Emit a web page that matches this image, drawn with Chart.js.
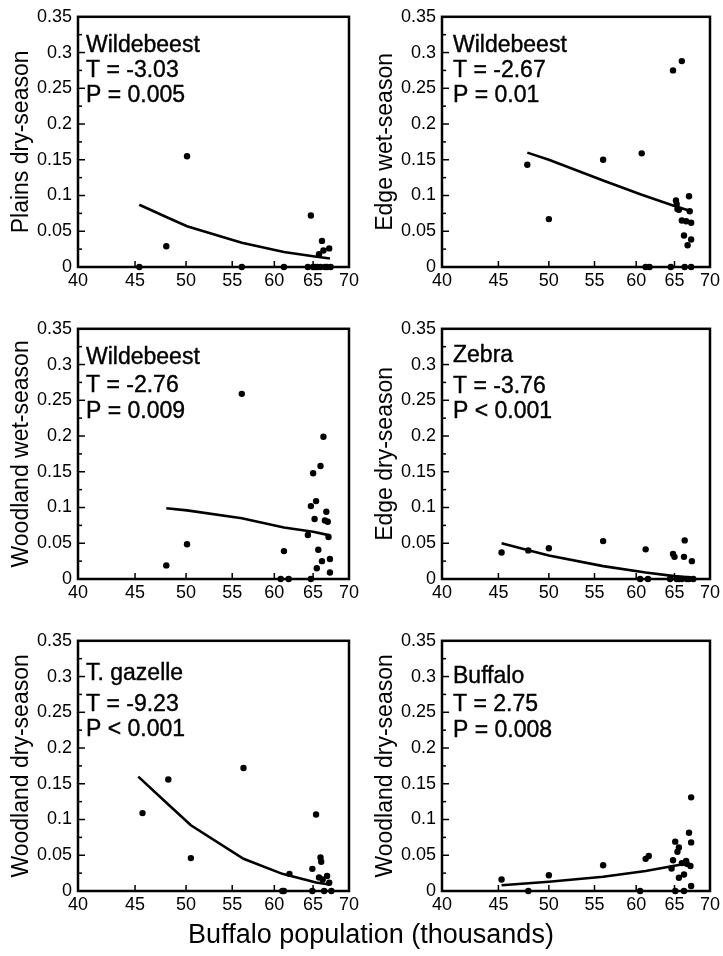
<!DOCTYPE html>
<html><head><meta charset="utf-8">
<script src="https://cdn.jsdelivr.net/npm/chart.js@4.4.0/dist/chart.umd.min.js"></script>
<style>
html,body{margin:0;padding:0;background:#fff;}
body{width:723px;height:956px;position:relative;overflow:hidden;font-family:"Liberation Sans",Arial,sans-serif;}
canvas{position:absolute;display:block;}
#xtitle{position:absolute;left:0;width:742px;top:918px;text-align:center;font-size:27px;color:#000;line-height:32px;}
</style></head><body>
<canvas id="c1" width="362" height="300" style="left:0;top:0"></canvas>
<canvas id="c2" width="361" height="300" style="left:362px;top:0"></canvas>
<canvas id="c3" width="362" height="300" style="left:0;top:312px"></canvas>
<canvas id="c4" width="361" height="300" style="left:362px;top:312px"></canvas>
<canvas id="c5" width="362" height="300" style="left:0;top:624px"></canvas>
<canvas id="c6" width="361" height="300" style="left:362px;top:624px"></canvas>
<div id="xtitle">Buffalo population (thousands)</div>
<script>
// ---- tick values ----
const xTickValues = [40, 45, 50, 55, 60, 65, 70];
const yTickValues = [0, 0.05, 0.1, 0.15, 0.2, 0.25, 0.3, 0.35];

// ---- panel 1: Plains dry-season, Wildebeest ----
const p1X = [45.4, 48.0, 50.1, 56.1, 61.2, 64.3, 64.7, 65.0, 65.3, 65.6, 65.8, 66.0, 66.2, 66.4, 66.6, 66.9, 67.2, 67.4];
const p1Y = [0, 0.029, 0.155, 0, 0, 0, 0.072, 0, 0, 0, 0.018, 0, 0.0365, 0.023, 0, 0, 0.026, 0];
const p1FitX = [45.4, 48, 50.1, 56.1, 61.2, 65, 67.3];
const p1FitY = [0.087, 0.070, 0.057, 0.034, 0.021, 0.015, 0.012];

// ---- panel 2: Edge wet-season, Wildebeest ----
const p2X = [47.8, 50.0, 56.0, 60.7, 61.2, 61.7, 64.5, 64.8, 65.2, 65.3, 65.4, 65.6, 66.0, 66.0, 66.3, 66.4, 66.6, 66.8, 67.0, 67.1, 67.3, 67.3, 67.3];
const p2Y = [0.143, 0.067, 0.150, 0.159, 0, 0, 0, 0.275, 0.093, 0.088, 0.081, 0.080, 0.288, 0.065, 0.044, 0, 0.064, 0.0305, 0.099, 0.078, 0.062, 0.0385, 0];
const p2FitX = [47.8, 50, 56, 60.7, 64.8, 67.3];
const p2FitY = [0.160, 0.150, 0.121, 0.101, 0.086, 0.078];

// ---- panel 3: Woodland wet-season, Wildebeest ----
const p3X = [48.0, 50.1, 56.1, 60.8, 61.2, 61.8, 64.3, 64.7, 64.7, 65.0, 65.2, 65.4, 65.5, 65.7, 66.0, 66.2, 66.4, 66.6, 66.8, 67.0, 67.1, 67.3, 67.3];
const p3Y = [0.019, 0.0486, 0.259, 0, 0.039, 0, 0.0616, 0.102, 0, 0.148, 0.084, 0.109, 0.015, 0.041, 0.158, 0.025, 0.199, 0.082, 0.094, 0.080, 0.0588, 0.028, 0.009];
const p3FitX = [48, 50.1, 56.1, 61.2, 65, 67.3];
const p3FitY = [0.099, 0.096, 0.085, 0.072, 0.066, 0.061];

// ---- panel 4: Edge dry-season, Zebra ----
const p4X = [45.3, 47.9, 50.0, 56.0, 60.5, 61.2, 61.5, 64.4, 64.8, 65.0, 65.3, 65.6, 66.0, 66.3, 66.4, 66.7, 67.0, 67.4, 67.6];
const p4Y = [0.037, 0.040, 0.043, 0.053, 0, 0.0415, 0, 0, 0.035, 0.031, 0, 0, 0, 0.031, 0.054, 0, 0, 0.025, 0];
const p4FitX = [45.3, 48, 50, 56, 61.2, 65, 67.3];
const p4FitY = [0.050, 0.040, 0.033, 0.018, 0.009, 0.004, 0.002];

// ---- panel 5: Woodland dry-season, T. gazelle ----
const p5X = [45.7, 48.2, 50.5, 56.3, 61.0, 61.2, 61.9, 64.9, 64.9, 65.4, 65.8, 66.0, 66.1, 66.3, 66.5, 66.9, 67.2, 67.5];
const p5Y = [0.109, 0.156, 0.046, 0.172, 0, 0, 0.024, 0.031, 0, 0.107, 0.019, 0.047, 0.041, 0.016, 0, 0.021, 0.0115, 0];
const p5FitX = [45.3, 48.2, 50.5, 56.3, 61, 65.4, 67.2];
const p5FitY = [0.160, 0.121, 0.092, 0.045, 0.024, 0.012, 0.009];

// ---- panel 6: Woodland dry-season, Buffalo ----
const p6X = [45.3, 47.9, 50.0, 56.0, 60.5, 61.2, 61.6, 64.6, 64.8, 65.1, 65.1, 65.4, 65.6, 65.6, 66.0, 66.3, 66.3, 66.6, 66.7, 67.0, 67.2, 67.3, 67.3, 67.3];
const p6Y = [0.016, 0, 0.022, 0.036, 0, 0.045, 0.049, 0.0315, 0.043, 0.069, 0, 0.055, 0.061, 0.0185, 0.039, 0.023, 0, 0.042, 0.038, 0.0815, 0.035, 0.131, 0.068, 0.007];
const p6FitX = [45.3, 50, 56, 61.2, 64.8, 66.6];
const p6FitY = [0.008, 0.013, 0.020, 0.028, 0.035, 0.038];

const FONT = '"Liberation Sans", Arial, Helvetica, sans-serif';
Chart.defaults.font.family = FONT;
Chart.defaults.color = '#000';

const framePlugin = {
  id: 'frame',
  afterDraw(chart, args, opts) {
    const {ctx, chartArea: a, scales} = chart;
    ctx.save();
    ctx.strokeStyle = '#000';
    ctx.lineWidth = 1.5;
    const ys = scales.y;
    for (let i = 0; i < yTickValues.length; i++) {
      const py = ys.getPixelForValue(yTickValues[i]);
      ctx.beginPath(); ctx.moveTo(a.left, py); ctx.lineTo(a.left + 7, py); ctx.stroke();
      if (i < yTickValues.length - 1) {
        const pm = ys.getPixelForValue((yTickValues[i] + yTickValues[i + 1]) / 2);
        ctx.beginPath(); ctx.moveTo(a.left, pm); ctx.lineTo(a.left + 4, pm); ctx.stroke();
      }
    }
    const xs = scales.x;
    for (const v of xTickValues) {
      const px = xs.getPixelForValue(v);
      ctx.beginPath(); ctx.moveTo(px, a.bottom); ctx.lineTo(px, a.bottom - 6); ctx.stroke();
    }
    ctx.lineWidth = 2.5;
    ctx.strokeRect(a.left, a.top, a.right - a.left, a.bottom - a.top);
    ctx.fillStyle = '#000';
    ctx.strokeStyle = '#000';
    ctx.lineWidth = 0.4;
    ctx.font = '23px ' + FONT;
    ctx.textBaseline = 'alphabetic';
    ctx.textAlign = 'left';
    opts.lines.forEach((t, i) => {
      ctx.fillText(t, a.left + opts.dx, a.top + opts.dy[i]);
      ctx.strokeText(t, a.left + opts.dx, a.top + opts.dy[i]);
    });
    ctx.restore();
  }
};

function makeChart(id, xs, ys, fx, fy, ytitle, lines, dx, dy, ytitleX) {
  const wide = document.getElementById(id).width === 362;
  const yw = wide ? 78 : 80;
  const rightPad = wide ? 12 : 9;
  new Chart(document.getElementById(id), {
    type: 'scatter',
    data: {
      datasets: [
        { type: 'line', data: fx.map((v, i) => ({x: v, y: fy[i]})), borderColor: '#000', borderWidth: 2.6,
          pointRadius: 0, fill: false, tension: 0, clip: false, order: 1 },
        { type: 'scatter', data: xs.map((v, i) => ({x: v, y: ys[i]})), backgroundColor: '#000', borderColor: '#000',
          pointRadius: 3.2, borderWidth: 0, clip: false, order: 0 }
      ]
    },
    options: {
      responsive: false,
      animation: false,
      events: [],
      layout: { autoPadding: false, padding: { left: 0, top: 15, right: rightPad, bottom: 0 } },
      plugins: {
        legend: { display: false },
        tooltip: { enabled: false },
        frame: { lines: lines, dx: dx, dy: dy }
      },
      scales: {
        x: {
          type: 'logarithmic', min: 40, max: 70,
          afterBuildTicks: s => { s.ticks = xTickValues.map(v => ({value: v})); },
          afterFit: s => { s.height = 33; },
          ticks: { callback: v => String(v), font: { size: 18 }, color: '#000', padding: 3, maxRotation: 0, autoSkip: false },
          grid: { display: false, drawTicks: false },
          border: { display: false }
        },
        y: {
          type: 'linear', min: 0, max: 0.35,
          afterBuildTicks: s => { s.ticks = yTickValues.map(v => ({value: v})); },
          afterFit: s => { s.width = yw; },
          ticks: { callback: v => String(+Number(v).toFixed(2)), font: { size: 18 }, color: '#000', padding: 6, autoSkip: false },
          grid: { display: false, drawTicks: false },
          border: { display: false },
          title: { display: true, text: ytitle, font: { size: 23 }, color: '#000', padding: { top: ytitleX, bottom: 0 } }
        }
      }
    },
    plugins: [framePlugin]
  });
}

makeChart('c1', p1X, p1Y, p1FitX, p1FitY, 'Plains dry-season', ['Wildebeest', 'T = -3.03', 'P = 0.005'], 8, [35, 60, 85], 8);
makeChart('c2', p2X, p2Y, p2FitX, p2FitY, 'Edge wet-season', ['Wildebeest', 'T = -2.67', 'P = 0.01'], 11, [35, 60, 85], 10);
makeChart('c3', p3X, p3Y, p3FitX, p3FitY, 'Woodland wet-season', ['Wildebeest', 'T = -2.76', 'P = 0.009'], 8, [35, 63, 89], 8);
makeChart('c4', p4X, p4Y, p4FitX, p4FitY, 'Edge dry-season', ['Zebra', 'T = -3.76', 'P < 0.001'], 11, [33, 64, 89], 10);
makeChart('c5', p5X, p5Y, p5FitX, p5FitY, 'Woodland dry-season', ['T. gazelle', 'T = -9.23', 'P < 0.001'], 8, [39, 70, 95], 8);
makeChart('c6', p6X, p6Y, p6FitX, p6FitY, 'Woodland dry-season', ['Buffalo', 'T = 2.75', 'P = 0.008'], 11, [42, 70, 96], 10);
</script>
</body></html>
